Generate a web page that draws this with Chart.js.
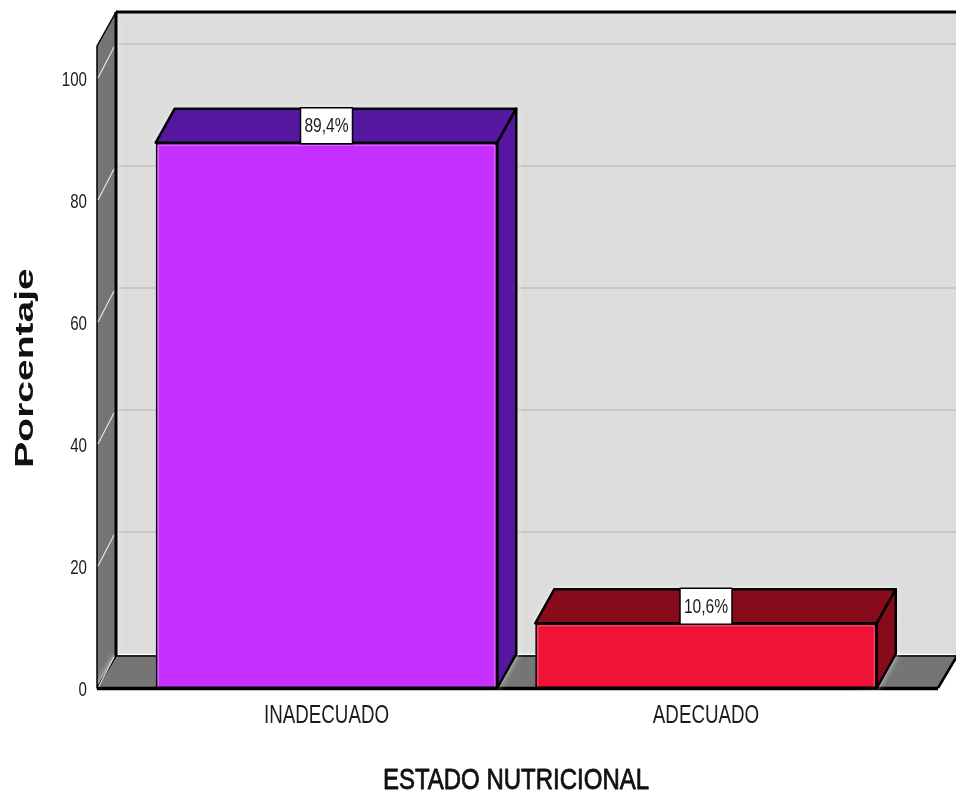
<!DOCTYPE html>
<html>
<head>
<meta charset="utf-8">
<style>
  html, body { margin: 0; padding: 0; background: #fff; }
  canvas { display: block; }
</style>
<script src="https://cdn.jsdelivr.net/npm/chart.js@4"></script>
</head>
<body>
<canvas id="estadoChart" width="956" height="796"></canvas>
<script>
const categories = ["INADECUADO", "ADECUADO"];
const percentages = [89.4, 10.6];
const yTicks = [0, 20, 40, 60, 80, 100];
const frontColors = ["#c52fff", "#ee1337"];
const edgeColors = ["#dc62ff", "#ff3c62"];
const darkColors = ["#5516a0", "#880b1b"];

// 3d depth of the box, in pixels
const depthX = 19;
const depthY = 34;
const fontName = "'Liberation Sans', Arial, sans-serif";

function poly(ctx, pts, fill, stroke, lw) {
  ctx.beginPath();
  pts.forEach((p, i) => (i ? ctx.lineTo(p[0], p[1]) : ctx.moveTo(p[0], p[1])));
  ctx.closePath();
  if (fill) {
    ctx.fillStyle = fill;
    ctx.fill();
  }
  if (stroke) {
    ctx.strokeStyle = stroke;
    ctx.lineWidth = lw;
    ctx.lineJoin = "round";
    ctx.stroke();
  }
}

function line(ctx, x1, y1, x2, y2, color, lw) {
  ctx.beginPath();
  ctx.moveTo(x1, y1);
  ctx.lineTo(x2, y2);
  ctx.strokeStyle = color;
  ctx.lineWidth = lw;
  ctx.stroke();
}

// text squeezed or widened horizontally, the installed fonts have no narrow cut
function stretchedText(ctx, text, x, y, opts) {
  ctx.save();
  ctx.translate(x, y);
  if (opts.rotate) ctx.rotate(opts.rotate);
  ctx.scale(opts.sx, 1);
  ctx.font = opts.font;
  ctx.fillStyle = opts.color || "#1c1c1c";
  ctx.textAlign = opts.align || "center";
  ctx.textBaseline = "middle";
  ctx.fillText(text, 0, 0);
  if (opts.heavy) {
    ctx.strokeStyle = ctx.fillStyle;
    ctx.lineWidth = opts.heavy;
    ctx.strokeText(text, 0, 0);
  }
  ctx.restore();
}

// walls, floor and gridlines behind the bars
const boxPlugin = {
  id: "boxPlugin",
  beforeDatasetsDraw(chart) {
    const { ctx, chartArea, scales: { y } } = chart;
    const left = chartArea.left - 39.75;
    const right = chartArea.right + 42.25;
    const top = chartArea.top;
    const floor = y.getPixelForValue(0);

    ctx.save();
    poly(ctx, [[left + depthX, top - depthY], [right + depthX, top - depthY], [right + depthX, floor - depthY], [left + depthX, floor - depthY]], "#dcdcdc");

    yTicks.forEach((v) => {
      const py = y.getPixelForValue(v);
      if (v > 0) line(ctx, left + depthX, py - depthY, right + depthX, py - depthY, "#c8c8c8", 2);
    });

    // left wall
    ctx.save();
    ctx.shadowColor = "#fff";
    ctx.shadowBlur = 7;
    poly(ctx, [[left, top], [left + depthX, top - depthY], [left + depthX, floor - depthY + 2], [left, floor]], "#757575");
    // floor
    poly(ctx, [[left, floor], [left + depthX, floor - depthY + 2], [right + depthX, floor - depthY + 2], [right, floor]], "#757575");
    ctx.restore();

    poly(ctx, [[left, top], [left + depthX, top - depthY], [left + depthX, floor - depthY + 2], [left, floor]], null, "#000", 1.5);
    yTicks.forEach((v) => {
      const py = y.getPixelForValue(v);
      line(ctx, left + 1, py, left + depthX - 2, py - depthY + 3, "#e4e4e4", 1.2);
    });

    line(ctx, left + depthX, floor - depthY + 2, right + depthX, floor - depthY + 2, "#222", 2);
    line(ctx, right, floor, right + depthX, floor - depthY + 2, "#000", 2.5);
    line(ctx, left + depthX, top - depthY, right + depthX, top - depthY, "#000", 3);
    line(ctx, left + depthX, top - depthY, left + depthX, floor - depthY + 2, "#000", 3);
    line(ctx, left, floor + 0.5, right, floor + 0.5, "#000", 3.5);

    // top and side faces of the bars
    chart.getDatasetMeta(0).data.forEach((bar, i) => {
      const l = bar.x - bar.width / 2;
      const r = bar.x + bar.width / 2;
      const t = bar.y;
      const b = bar.base;
      ctx.save();
      ctx.shadowColor = "#fff";
      ctx.shadowBlur = 7;
      poly(ctx, [[l, t], [l + depthX, t - depthY], [r + depthX, t - depthY], [r + depthX, b - depthY], [r, b]], darkColors[i]);
      ctx.restore();
      poly(ctx, [[l, t], [l + depthX, t - depthY], [r + depthX, t - depthY], [r, t]], darkColors[i], "#000", 2.5);
      poly(ctx, [[r, t], [r + depthX, t - depthY], [r + depthX, b - depthY], [r, b]], darkColors[i], "#000", 2.5);
    });
    ctx.restore();
  },
  afterDatasetsDraw(chart) {
    const { ctx, scales: { x, y } } = chart;
    ctx.save();
    chart.getDatasetMeta(0).data.forEach((bar, i) => {
      const l = bar.x - bar.width / 2;
      const r = bar.x + bar.width / 2;
      // lighter rim inside the front face
      poly(ctx, [[l + 2.5, bar.base], [l + 2.5, bar.y + 2.5], [r - 2.5, bar.y + 2.5], [r - 2.5, bar.base]], null, edgeColors[i], 1.5);
      line(ctx, l, bar.base, r, bar.base, "#000", 3);

      const text = percentages[i].toFixed(1).replace(".", ",") + "%";
      const cy = bar.y - depthY / 2;
      poly(ctx, [[bar.x - 26, cy - 18], [bar.x + 26, cy - 18], [bar.x + 26, cy + 18], [bar.x - 26, cy + 18]], "#fff", "#000", 1.5);
      stretchedText(ctx, text, bar.x, cy + 1, { font: "20px " + fontName, sx: 0.78 });
    });

    // axis texts
    y.ticks.forEach((tick, i) => {
      stretchedText(ctx, String(tick.value), 87, y.getPixelForTick(i) + 2, { font: "21px " + fontName, sx: 0.72, align: "right" });
    });
    x.ticks.forEach((tick, i) => {
      stretchedText(ctx, categories[i], x.getPixelForTick(i), 716, { font: "25px " + fontName, sx: 0.75 });
    });
    stretchedText(ctx, "ESTADO NUTRICIONAL", 516, 781, { font: "30px " + fontName, sx: 0.8, color: "#111", heavy: 0.8 });
    stretchedText(ctx, "Porcentaje", 26, 368, { font: "bold 25px " + fontName, sx: 1.56, rotate: -Math.PI / 2, color: "#111" });
    ctx.restore();
  },
};

new Chart(document.getElementById("estadoChart"), {
  type: "bar",
  data: {
    labels: categories,
    datasets: [
      {
        data: percentages,
        backgroundColor: frontColors,
        borderColor: "#000",
        borderWidth: 2,
        barPercentage: 0.9,
        categoryPercentage: 1,
      },
    ],
  },
  options: {
    responsive: false,
    animation: false,
    layout: { padding: { top: 46, right: 60.25, left: 0, bottom: 0 } },
    plugins: { legend: { display: false }, tooltip: { enabled: false } },
    scales: {
      x: {
        grid: { display: false, drawTicks: false },
        border: { display: false },
        ticks: { display: false },
        afterFit(scale) {
          scale.height = 108;
          scale.paddingLeft = 0;
          scale.paddingRight = 0;
        },
      },
      y: {
        min: 0,
        max: 105.25,
        grid: { display: false, drawTicks: false },
        border: { display: false },
        afterBuildTicks(axis) {
          axis.ticks = yTicks.map((value) => ({ value }));
        },
        ticks: { display: false },
        afterFit(scale) {
          scale.width = 136.75;
          scale.paddingTop = 0;
          scale.paddingBottom = 0;
        },
      },
    },
  },
  plugins: [boxPlugin],
});
</script>
</body>
</html>
